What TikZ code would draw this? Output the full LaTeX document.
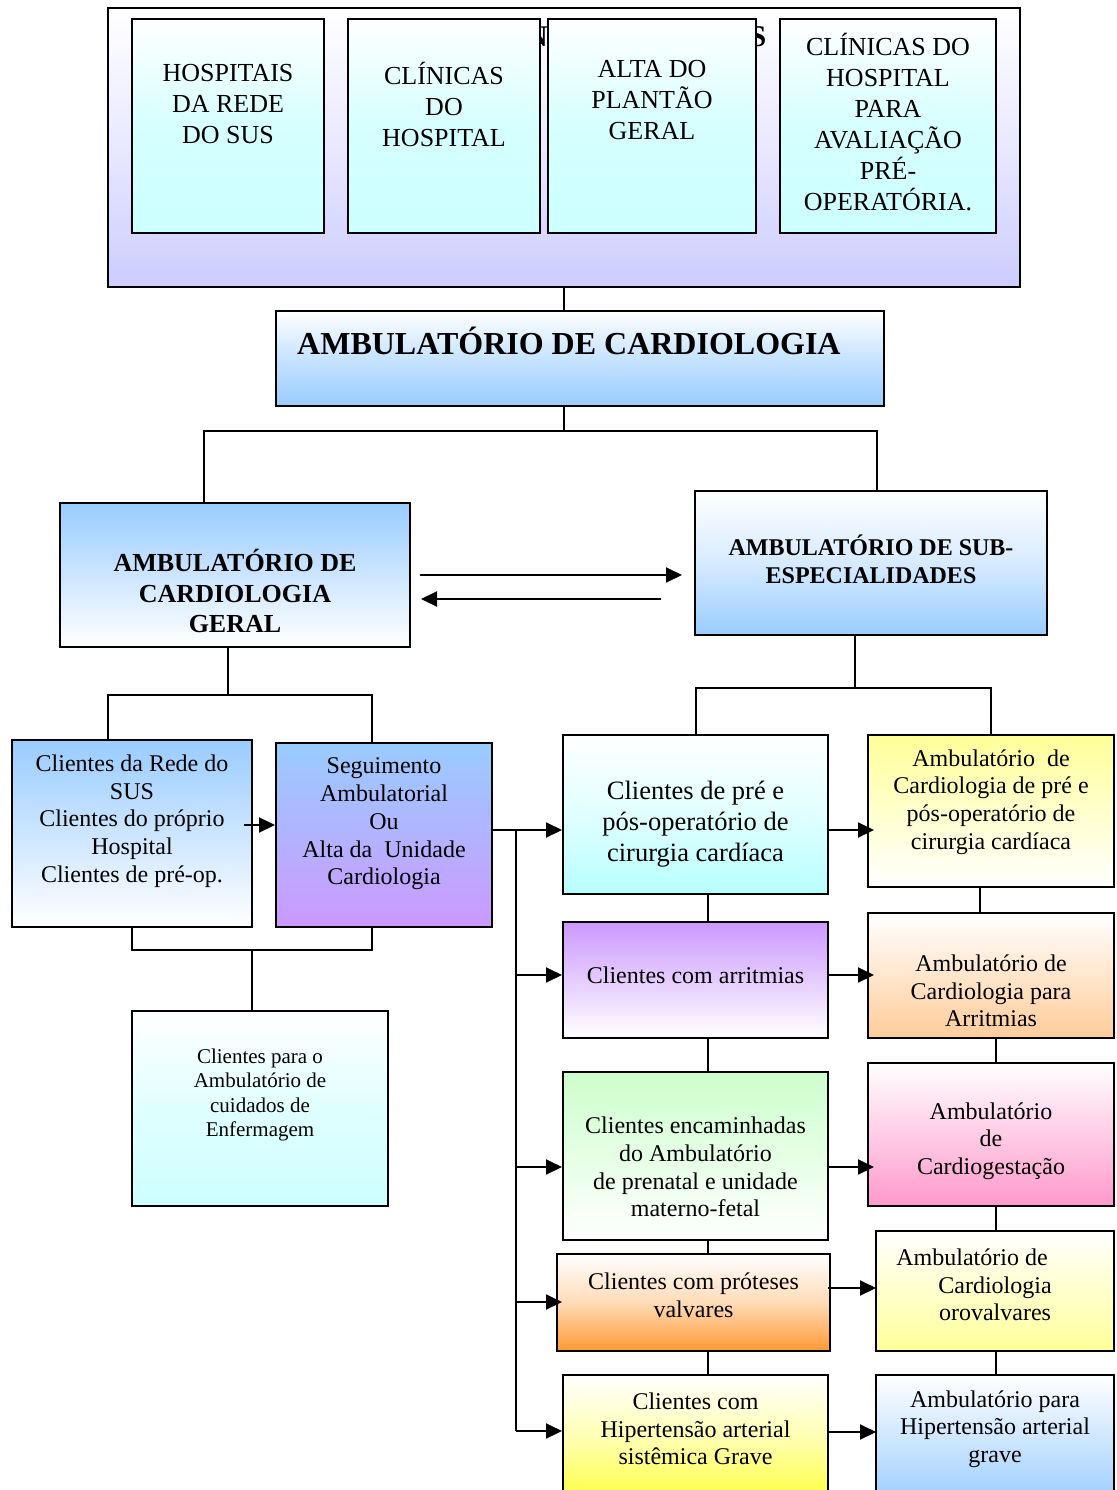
\documentclass[tikz,border=0pt]{standalone}
\usepackage{fontspec}
\setmainfont{Liberation Serif}
\usetikzlibrary{arrows.meta,calc}

\definecolor{lav}{HTML}{CCCCFF}
\definecolor{cyanl}{HTML}{CCFFFF}
\definecolor{bluel}{HTML}{99CCFF}
\definecolor{viol}{HTML}{CC99FF}
\definecolor{greenl}{HTML}{CCFFCC}
\definecolor{orng}{HTML}{FF9933}
\definecolor{yelw}{HTML}{FFFF33}
\definecolor{yell}{HTML}{FFFF99}
\definecolor{peach}{HTML}{FFCC99}
\definecolor{pinkl}{HTML}{FF99CC}

\tikzset{
  box/.style={draw=black, line width=2pt, rectangle, inner sep=0pt},
  txt/.style={inner sep=0pt, align=center, text=black},
  link/.style={draw=black, line width=2pt},
  arr/.style={link, -{Triangle[length=16pt,width=15pt]}},
  topfont/.style={font=\fontsize{26}{31}\selectfont},
  bodyfont/.style={font=\fontsize{24}{27.7}\selectfont},
}

\begin{document}
\begin{tikzpicture}[x=1pt, y=-1pt]
\useasboundingbox (0,0) rectangle (1116,1490);

% ---- entry units panel ----
\node[box, minimum width=912pt, minimum height=279pt, top color=white, bottom color=lav, middle color=lav!45]
  (origem) at (564,147.5) {};
\node[txt, font=\bfseries\fontsize{30}{30}\selectfont] (letN) at (537,37) {N};
\node[txt, font=\bfseries\fontsize{30}{30}\selectfont] (letS) at (758,37) {S};

\node[box, minimum width=192pt, minimum height=214pt, top color=white, bottom color=cyanl, middle color=cyanl!80]
  (hosp) at (228,126) {};
\node[box, minimum width=192pt, minimum height=214pt, top color=white, bottom color=cyanl, middle color=cyanl!80]
  (clin) at (444,126) {};
\node[box, minimum width=208pt, minimum height=214pt, top color=white, bottom color=cyanl, middle color=cyanl!80]
  (alta) at (652,126) {};
\node[box, minimum width=216pt, minimum height=214pt, top color=white, bottom color=cyanl, middle color=cyanl!80]
  (preop) at (888,126) {};

\node[txt, topfont] (hosp-t) at (228,104) {HOSPITAIS\\DA REDE\\DO SUS};
\node[txt, topfont] (clin-t) at (444,104) {CLÍNICAS\\DO\\HOSPITAL};
\node[txt, topfont] (alta-t) at (652,100) {ALTA DO\\PLANTÃO\\GERAL};
\node[txt, topfont] (preop-t) at (888,122) {CLÍNICAS DO\\HOSPITAL\\PARA\\AVALIAÇÃO\\PRÉ-\\OPERATÓRIA.};

% ---- main clinic ----
\node[box, minimum width=608pt, minimum height=95pt, top color=white, bottom color=bluel, middle color=bluel!55]
  (amb) at (580,358.5) {};
\node[txt, anchor=west, font=\bfseries\fontsize{32}{38}\selectfont] (amb-t) at (297,341) {AMBULATÓRIO DE CARDIOLOGIA};

% ---- general and sub-specialties ----
\node[box, minimum width=350pt, minimum height=144pt, top color=bluel, bottom color=white]
  (geral) at (235,575) {};
\node[txt, font=\bfseries\fontsize{26}{30.5}\selectfont] (geral-t) at (235,591) {AMBULATÓRIO DE\\CARDIOLOGIA\\GERAL};

\node[box, minimum width=352pt, minimum height=144pt, top color=white, bottom color=bluel, middle color=bluel!40]
  (sub) at (871,563) {};
\node[txt, font=\bfseries\fontsize{24}{28}\selectfont] (sub-t) at (871,559) {AMBULATÓRIO DE SUB-\\ESPECIALIDADES};

% ---- general clinic branch ----
\node[box, minimum width=240pt, minimum height=187pt, top color=bluel, bottom color=white]
  (rede) at (132,833.5) {};
\node[txt, bodyfont] (rede-t) at (132,821) {Clientes da Rede do\\SUS\\Clientes do próprio\\Hospital\\Clientes de pré-op.};

\node[box, minimum width=216pt, minimum height=184pt, top color=bluel, bottom color=viol]
  (seg) at (384,835) {};
\node[txt, bodyfont] (seg-t) at (384,824) {Seguimento\\Ambulatorial\\Ou\\Alta da~ Unidade\\Cardiologia};

\node[box, minimum width=256pt, minimum height=195pt, top color=white, bottom color=cyanl, middle color=cyanl!60]
  (enf) at (260,1108.5) {};
\node[txt, font=\fontsize{21}{24.5}\selectfont] (enf-t) at (260,1095) {Clientes para o\\Ambulatório de\\cuidados de\\Enfermagem};

% ---- patient groups ----
\node[box, minimum width=265pt, minimum height=159pt, top color=white, bottom color=cyanl!90!cyan, middle color=cyanl!60]
  (posop) at (695.5,814.5) {};
\node[txt, font=\fontsize{26.5}{31}\selectfont] (posop-t) at (695.5,824) {Clientes de pré e\\pós-operatório de\\cirurgia cardíaca};

\node[box, minimum width=265pt, minimum height=116pt, top color=viol, bottom color=white]
  (arrit) at (695.5,980) {};
\node[txt, bodyfont] (arrit-t) at (695.5,975) {Clientes com arritmias};

\node[box, minimum width=265pt, minimum height=168pt, top color=greenl, bottom color=white]
  (gest) at (695.5,1156) {};
\node[txt, bodyfont] (gest-t) at (695.5,1167) {Clientes encaminhadas\\do Ambulatório\\de prenatal e unidade\\materno-fetal};

\node[box, minimum width=273pt, minimum height=97pt, top color=white, bottom color=orng, middle color=orng!35]
  (prot) at (693.5,1302.5) {};
\node[txt, bodyfont] (prot-t) at (693.5,1295) {Clientes com próteses\\valvares};

\node[box, minimum width=265pt, minimum height=132pt, top color=white, bottom color=yelw, middle color=yelw!40]
  (hip) at (695.5,1441) {};
\node[txt, bodyfont] (hip-t) at (695.5,1429) {Clientes com\\Hipertensão arterial\\sistêmica Grave};

% ---- specialty clinics ----
\node[box, minimum width=246pt, minimum height=152pt, top color=yell, bottom color=white]
  (ambpos) at (991,811) {};
\node[txt, bodyfont] (ambpos-t) at (991,802) {Ambulatório~ de\\Cardiologia de pré e\\pós-operatório de\\cirurgia cardíaca};

\node[box, minimum width=246pt, minimum height=125pt, top color=white, bottom color=peach]
  (ambarr) at (991,975.5) {};
\node[txt, bodyfont] (ambarr-t) at (991,991) {Ambulatório de\\Cardiologia para\\Arritmias};

\node[box, minimum width=246pt, minimum height=143pt, top color=white, bottom color=pinkl]
  (ambgest) at (991,1134.5) {};
\node[txt, bodyfont] (ambgest-t) at (991,1141) {Ambulatório\\de\\Cardiogestação};

\node[box, minimum width=238pt, minimum height=120pt, top color=white, bottom color=yell]
  (ambval) at (995,1291) {};
\node[txt, bodyfont] (ambval-t) at (995,1285) {Ambulatório de\hspace*{46pt}\\Cardiologia\\orovalvares};

\node[box, minimum width=238pt, minimum height=132pt, top color=white, bottom color=bluel]
  (ambhip) at (995,1441) {};
\node[txt, bodyfont] (ambhip-t) at (995,1429) {Ambulatório para\\Hipertensão arterial\\grave};

% ---- connectors: upper tree ----
\draw[link] (origem.south) -- (origem.south |- amb.north);
\coordinate (j1) at (564,431);
\draw[link] (amb.south -| j1) -- (j1);
\draw[link] ([xshift=-31pt]geral.north) |- (j1) -| ([xshift=6pt]sub.north);

% arrows between general and sub-specialties
\coordinate (ga1) at (420,575);
\coordinate (ga2) at (661,599);
\draw[arr, shorten >=12pt] (ga1) -- (sub.west |- ga1);
\draw[arr, shorten >=10pt] (ga2) -- (geral.east |- ga2);

% ---- connectors: general clinic branch ----
\coordinate (j2) at (228,695);
\draw[link] ([xshift=-7pt]geral.south) -- (j2);
\draw[link] ([xshift=-24pt]rede.north) |- (j2) -| ([xshift=-12pt]seg.north);
\coordinate (rs) at (244,825);
\draw[arr] (rs) -- (seg.west |- rs);
\coordinate (j3) at (252,950);
\draw[link] (rede.south) |- (j3) -| ([xshift=-12pt]seg.south);
\draw[link] (j3) -- (j3 |- enf.north);

% ---- connectors: trunk to patient groups ----
\coordinate (t0) at (516,830);
\coordinate (t1) at (516,975);
\coordinate (t2) at (516,1167);
\coordinate (t3) at (516,1302);
\coordinate (t4) at (516,1431);
\draw[link] (seg.east |- t0) -- (t0) -- (t4);
\draw[arr] (t0) -- (posop.west |- t0);
\draw[arr] (t1) -- (arrit.west |- t1);
\draw[arr] (t2) -- (gest.west |- t2);
\draw[arr, shorten >=-6pt] (t3) -- (prot.west |- t3);
\draw[arr] (t4) -- (hip.west |- t4);

% links within the patient-group column
\draw[link] ([xshift=12.5pt]posop.south) -- ([xshift=12.5pt]posop.south |- arrit.north);
\draw[link] ([xshift=12.5pt]arrit.south) -- ([xshift=12.5pt]arrit.south |- gest.north);
\draw[link] ([xshift=12.5pt]gest.south) -- ([xshift=12.5pt]gest.south |- prot.north);
\draw[link] ([xshift=14.5pt]prot.south) -- ([xshift=14.5pt]prot.south |- hip.north);

% ---- connectors: sub-specialties tree ----
\coordinate (j4) at (855,688);
\draw[link] ([xshift=-16pt]sub.south) -- (j4);
\draw[link] (posop.north) |- (j4) -| (ambpos.north);

% arrows from patient groups to clinics
\draw[arr, shorten >=-7pt] ([yshift=-15.5pt]posop.east) -- ([yshift=-15.5pt]posop.east -| ambpos.west);
\draw[arr, shorten >=-7pt] ([yshift=5pt]arrit.east) -- ([yshift=5pt]arrit.east -| ambarr.west);
\draw[arr, shorten >=-7pt] ([yshift=-11pt]gest.east) -- ([yshift=-11pt]gest.east -| ambgest.west);
\draw[arr, shorten >=-1pt] ([yshift=14.5pt,xshift=-3pt]prot.east) -- ([yshift=14.5pt]prot.east -| ambval.west);
\draw[arr, shorten >=-1pt] ([yshift=9pt]hip.east) -- ([yshift=9pt]hip.east -| ambhip.west);

% links within the clinics column
\draw[link] ([xshift=-11pt]ambpos.south) -- ([xshift=-11pt]ambpos.south |- ambarr.north);
\draw[link] ([xshift=5pt]ambarr.south) -- ([xshift=5pt]ambarr.south |- ambgest.north);
\draw[link] ([xshift=5pt]ambgest.south) -- ([xshift=5pt]ambgest.south |- ambval.north);
\draw[link] ([xshift=1pt]ambval.south) -- ([xshift=1pt]ambval.south |- ambhip.north);
\end{tikzpicture}
\end{document}
